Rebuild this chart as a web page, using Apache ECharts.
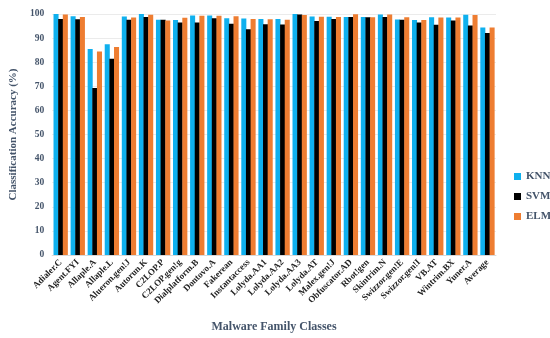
<!DOCTYPE html>
<html>
<head>
<meta charset="utf-8">
<script src="https://cdn.jsdelivr.net/npm/echarts@6/dist/echarts.min.js"></script>
<style>html,body{margin:0;padding:0;background:#fff}#c{width:550px;height:338px}</style>
</head>
<body>
<div id="c"></div>
<script>
var categories = ['Adialer.C','Agent.FYI','Allaple.A','Allaple.L','Alueron.gen!J','Autorun.K','C2LOP.P','C2LOP.gen!g','Dialplatform.B','Dontovo.A','Fakerean','Instantaccess','Lolyda.AA1','Lolyda.AA2','Lolyda.AA3','Lolyda.AT','Malex.gen!J','Obfuscator.AD','Rbot!gen','Skintrim.N','Swizzor.gen!E','Swizzor.gen!I','VB.AT','Wintrim.BX','Yuner.A','Average'];
var knn = [100,99.1,85.5,87.4,99.0,100,97.6,97.5,99.4,99.4,98.2,98.1,97.9,97.9,100,99.0,98.9,98.8,98.8,99.8,97.7,97.5,98.6,98.5,99.7,94.4];
var svm = [97.9,97.8,69.3,81.4,97.6,98.8,97.6,96.5,96.5,98.2,96.0,93.7,95.7,95.6,99.8,97.1,97.9,98.8,98.7,98.8,97.6,96.5,95.5,97.3,95.2,92.1];
var elm = [99.8,98.8,84.4,86.3,98.5,99.7,97.3,98.4,99.3,99.3,99.1,97.9,97.8,97.6,99.6,98.9,98.8,99.9,98.7,99.8,98.6,97.5,98.5,98.5,99.6,94.4];
var yTicks = {min:0, max:100, interval:10};

var txt = '#44546a';
var font = '"Liberation Serif", "Times New Roman", serif';
var chart = echarts.init(document.getElementById('c'));
chart.setOption({
  animation:false,
  textStyle:{fontFamily:font},
  grid:{left:48, right:54, top:14, bottom:80},
  legend:{
    orient:'vertical', left:509, top:166, itemWidth:7, itemHeight:7, itemGap:9,
    icon:'rect',
    textStyle:{fontFamily:font, fontWeight:'bold', fontSize:11, color:txt},
    data:['KNN','SVM','ELM']
  },
  xAxis:{
    type:'category', data:categories,
    name:'Malware Family Classes', nameLocation:'middle', nameGap:66,
    nameTextStyle:{fontFamily:font, fontWeight:'bold', fontSize:12, color:txt},
    axisLine:{show:true, lineStyle:{color:'#d9d9d9'}},
    axisTick:{show:false},
    axisLabel:{interval:0, rotate:45, fontFamily:font, fontWeight:'bold', fontSize:9, color:'#222', margin:6}
  },
  yAxis:{
    type:'value', min:yTicks.min, max:yTicks.max, interval:yTicks.interval,
    name:'Classification Accuracy (%)', nameLocation:'middle', nameGap:33,
    nameTextStyle:{fontFamily:font, fontWeight:'bold', fontSize:11, color:txt},
    axisLine:{show:false}, axisTick:{show:false},
    axisLabel:{fontFamily:font, fontWeight:'bold', fontSize:9.5, color:txt, margin:8},
    splitLine:{lineStyle:{color:'#ebebeb'}}
  },
  series:[
    {name:'KNN', type:'bar', data:knn, itemStyle:{color:'#0fb0ee'}, barGap:'-8%', barCategoryGap:'16%'},
    {name:'SVM', type:'bar', data:svm, itemStyle:{color:'#000000'}},
    {name:'ELM', type:'bar', data:elm, itemStyle:{color:'#ee7d31'}}
  ]
});
</script>
</body>
</html>
